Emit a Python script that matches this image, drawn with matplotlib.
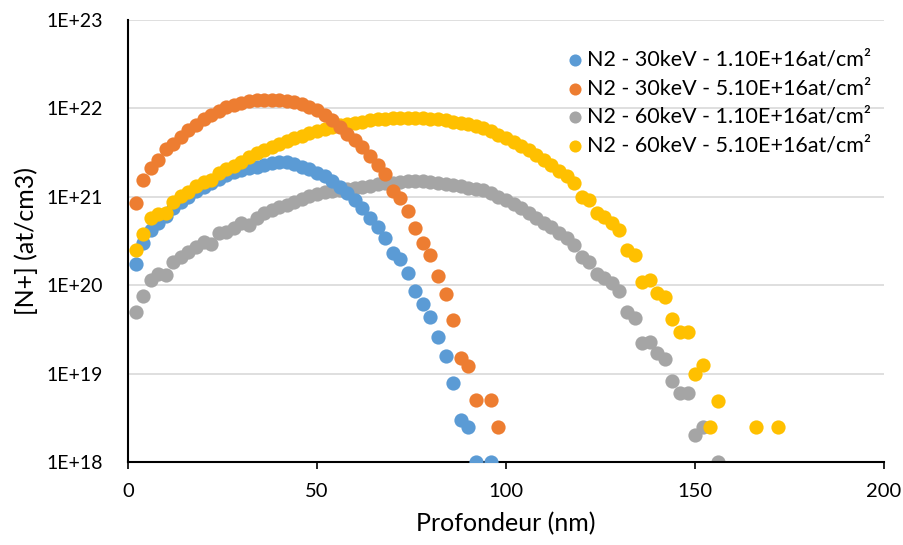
import matplotlib
matplotlib.use('Agg')
import matplotlib.pyplot as plt
import numpy as np

plt.rcParams['font.family'] = ['Lato', 'DejaVu Sans']

x_b = [2, 4, 6, 8, 10, 12, 14, 16, 18, 20, 22, 24, 26, 28, 30, 32, 34, 36, 38, 40,
       42, 44, 46, 48, 50, 52, 54, 56, 58, 60, 62, 64, 66, 68, 70, 72, 74, 76, 78, 80,
       82, 84, 86, 88, 90, 92, 96]
y_b = [1.75e20, 3.0e20, 4.2e20, 5.0e20, 6.0e20, 7.5e20, 8.8e20, 1.0e21, 1.15e21, 1.3e21,
       1.45e21, 1.6e21, 1.75e21, 1.9e21, 2.0e21, 2.1e21, 2.2e21, 2.3e21, 2.4e21, 2.45e21,
       2.45e21, 2.35e21, 2.2e21, 2.05e21, 1.88e21, 1.7e21, 1.5e21, 1.3e21, 1.1e21, 9.2e20,
       7.4e20, 5.8e20, 4.6e20, 3.4e20, 2.3e20, 1.96e20, 1.38e20, 8.7e19, 6.1e19, 4.4e19,
       2.57e19, 1.58e19, 7.9e18, 3.0e18, 2.5e18, 1.0e18, 1.0e18]

x_o = [2, 4, 6, 8, 10, 12, 14, 16, 18, 20, 22, 24, 26, 28, 30, 32, 34, 36, 38, 40,
       42, 44, 46, 48, 50, 52, 54, 56, 58, 60, 62, 64, 66, 68, 70, 72, 74, 76, 78, 80,
       82, 84, 86, 88, 90, 92, 96, 98]
y_o = [8.6e20, 1.55e21, 2.1e21, 2.6e21, 3.5e21, 4.0e21, 4.8e21, 5.7e21, 6.5e21, 7.5e21,
       8.4e21, 9.4e21, 1.03e22, 1.09e22, 1.16e22, 1.21e22, 1.24e22, 1.25e22, 1.25e22, 1.24e22,
       1.21e22, 1.17e22, 1.12e22, 1.05e22, 9.6e21, 8.5e21, 7.3e21, 6.2e21, 5.2e21, 4.4e21,
       3.7e21, 2.9e21, 2.3e21, 1.8e21, 1.15e21, 9.8e20, 6.9e20, 4.4e20, 3.0e20, 2.2e20,
       1.28e20, 7.9e19, 4.0e19, 1.49e19, 1.23e19, 5e18, 5e18, 2.5e18]

x_g = [2, 4, 6, 8, 10, 12, 14, 16, 18, 20, 22, 24, 26, 28, 30, 32, 34, 36, 38, 40,
       42, 44, 46, 48, 50, 52, 54, 56, 58, 60, 62, 64, 66, 68, 70, 72, 74, 76, 78, 80,
       82, 84, 86, 88, 90, 92, 94, 96, 98, 100, 102, 104, 106, 108, 110, 112, 114, 116,
       118, 120, 122, 124, 126, 128, 130, 132, 134, 136, 138, 140, 142, 144, 146, 148,
       150, 152, 156]
y_g = [5.0e19, 7.5e19, 1.15e20, 1.35e20, 1.3e20, 1.85e20, 2.1e20, 2.4e20, 2.7e20, 3.1e20,
       2.9e20, 3.9e20, 4.0e20, 4.4e20, 5.0e20, 4.8e20, 5.8e20, 6.5e20, 7.1e20, 7.6e20,
       8.1e20, 8.8e20, 9.4e20, 1.02e21, 1.08e21, 1.12e21, 1.16e21, 1.2e21, 1.23e21, 1.26e21,
       1.3e21, 1.34e21, 1.38e21, 1.42e21, 1.45e21, 1.48e21, 1.5e21, 1.5e21, 1.49e21, 1.47e21,
       1.44e21, 1.4e21, 1.36e21, 1.31e21, 1.27e21, 1.23e21, 1.19e21, 1.1e21, 1.0e21, 9.2e20,
       8.3e20, 7.5e20, 6.6e20, 5.8e20, 5.1e20, 4.5e20, 3.9e20, 3.4e20,
       2.85e20, 2.1e20, 1.85e20, 1.35e20, 1.2e20, 1.05e20, 8.5e19, 5.0e19, 4.3e19, 2.2e19,
       2.3e19, 1.7e19, 1.45e19, 8.3e18, 6.0e18, 6.0e18,
       2.0e18, 2.5e18, 1.0e18]

x_y = [2, 4, 6, 8, 10, 12, 14, 16, 18, 20, 22, 24, 26, 28, 30, 32, 34, 36, 38, 40,
       42, 44, 46, 48, 50, 52, 54, 56, 58, 60, 62, 64, 66, 68, 70, 72, 74, 76, 78, 80,
       82, 84, 86, 88, 90, 92, 94, 96, 98, 100, 102, 104, 106, 108, 110, 112, 114, 116,
       118, 120, 122, 124, 126, 128, 130, 132, 134, 136, 138, 140, 142, 144, 146, 148,
       150, 152, 154, 156, 166, 172]
y_y = [2.5e20, 3.8e20, 5.7e20, 6.4e20, 6.6e20, 8.8e20, 1.02e21, 1.14e21, 1.32e21, 1.48e21,
       1.55e21, 1.87e21, 2.04e21, 2.23e21, 2.5e21, 2.8e21, 3.1e21, 3.4e21, 3.7e21, 4.0e21,
       4.3e21, 4.6e21, 4.9e21, 5.3e21, 5.6e21, 5.9e21, 6.2e21, 6.5e21, 6.7e21, 6.9e21,
       7.1e21, 7.3e21, 7.5e21, 7.6e21, 7.7e21, 7.8e21, 7.8e21, 7.8e21, 7.7e21, 7.6e21,
       7.5e21, 7.3e21, 7.1e21, 6.9e21, 6.6e21, 6.3e21, 6.0e21, 5.5e21, 5.0e21, 4.6e21,
       4.2e21, 3.8e21, 3.4e21, 3.0e21, 2.6e21, 2.3e21, 1.95e21, 1.7e21,
       1.45e21, 1.0e21, 9.2e20, 6.5e20, 5.9e20, 5.1e20, 4.2e20, 2.5e20, 2.2e20, 1.1e20,
       1.15e20, 8.1e19, 7.4e19, 4.2e19, 2.95e19, 2.95e19,
       1.0e19, 1.25e19, 2.5e18, 4.9e18, 2.5e18, 2.5e18]

labels = ['N2 - 30keV - 1.10E+16at/cm²', 'N2 - 30keV - 5.10E+16at/cm²',
          'N2 - 60keV - 1.10E+16at/cm²', 'N2 - 60keV - 5.10E+16at/cm²']
colors = ['#5B9BD5', '#ED7D31', '#A5A5A5', '#FFC000']

yticks = [1e18, 1e19, 1e20, 1e21, 1e22, 1e23]
ytick_labels = ['1E+18', '1E+19', '1E+20', '1E+21', '1E+22', '1E+23']

fig = plt.figure(figsize=(9.04, 5.45), dpi=100)
ax = fig.add_axes([0.1416, 0.1523, 0.8364, 0.811])

series = [(x_b, y_b), (x_o, y_o), (x_g, y_g), (x_y, y_y)]
zorders = [3, 5, 2, 4]
for (xs, ys), lab, c, z in zip(series, labels, colors, zorders):
    ax.scatter(xs, ys, s=105, color=c, label=lab, zorder=z, linewidths=0)

#Rest:

ax.set_yscale('log')
ax.set_xlim(0, 200)
ax.set_ylim(1e18, 1e23)
ax.set_xticks([0, 50, 100, 150, 200])
ax.set_yticks(yticks)
ax.set_yticklabels(ytick_labels)
ax.minorticks_off()
ax.yaxis.grid(True, color='#d9d9d9', linewidth=1.2)
ax.set_axisbelow(True)
for s in ['top', 'right']:
    ax.spines[s].set_visible(False)
for s in ['left', 'bottom']:
    ax.spines[s].set_linewidth(1.5)
    ax.spines[s].set_color('black')
ax.tick_params(axis='x', length=5, width=1.2, labelsize=14.5, pad=10)
ax.tick_params(axis='y', length=0, labelsize=14, pad=18)
ax.set_xlabel('Profondeur (nm)', fontsize=18, labelpad=9)
ax.set_ylabel('[N+] (at/cm3)', fontsize=18, labelpad=6)

leg = ax.legend(loc='upper right', bbox_to_anchor=(1.0, 0.962), frameon=False,
                fontsize=15.5, handletextpad=0.05, handlelength=1.0,
                labelspacing=0.4, borderaxespad=0.2, markerscale=0.85)

fig.savefig('out.png', dpi=100)
